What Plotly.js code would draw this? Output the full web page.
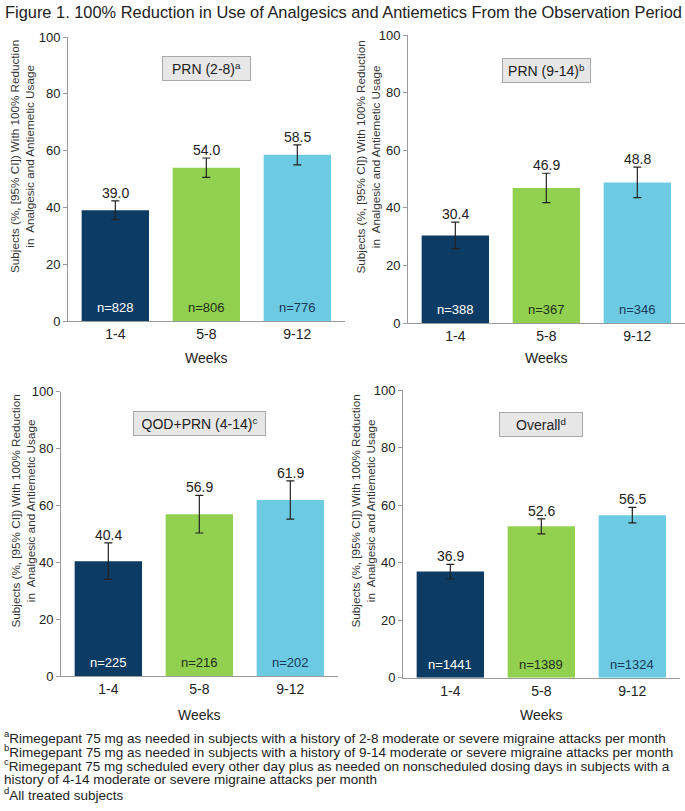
<!DOCTYPE html>
<html>
<head>
<meta charset="utf-8">
<script src="https://cdn.plot.ly/plotly-3.0.1.min.js"></script>
<style>html,body{margin:0;padding:0;background:#fff;}#chart{width:685px;height:811px;}</style>
</head>
<body>
<div id="chart"></div>
<script>
// ---- data ----
const weeks = ['1-4', '5-8', '9-12'];
const panelLabels = ['PRN (2-8)<sup>a</sup>', 'PRN (9-14)<sup>b</sup>', 'QOD+PRN (4-14)<sup>c</sup>', 'Overall<sup>d</sup>'];
const prn28Pct = [39.0, 54.0, 58.5];
const prn28Ci = [3.3, 3.4, 3.5];
const prn28N = [828, 806, 776];
const prn914Pct = [30.4, 46.9, 48.8];
const prn914Ci = [4.6, 5.1, 5.3];
const prn914N = [388, 367, 346];
const qodPct = [40.4, 56.9, 61.9];
const qodCi = [6.4, 6.6, 6.7];
const qodN = [225, 216, 202];
const overallPct = [36.9, 52.6, 56.5];
const overallCi = [2.5, 2.6, 2.7];
const overallN = [1441, 1389, 1324];
const barColors = ['#0c3b63', '#92d050', '#6ccbe2'];
const nTextColors = ['#ffffff', '#1e2e1a', '#17395a'];
const yTitle = 'Subjects (%, [95% CI]) With 100% Reduction<br>in  Analgesic and Antiemetic Usage';
const xTitle = 'Weeks';
const figTitle = 'Figure 1. 100% Reduction in Use of Analgesics and Antiemetics From the Observation Period';
const footnotes = [
  '<sup>a</sup>Rimegepant 75 mg as needed in subjects with a history of 2-8 moderate or severe migraine attacks per month',
  '<sup>b</sup>Rimegepant 75 mg as needed in subjects with a history of 9-14 moderate or severe migraine attacks per month',
  '<sup>c</sup>Rimegepant 75 mg scheduled every other day plus as needed on nonscheduled dosing days in subjects with a',
  'history of 4-14 moderate or severe migraine attacks per month',
  '<sup>d</sup>All treated subjects'
];

// ---- layout geometry (pixels in a 685x811 figure) ----
const W = 685, H = 811;
const FONT = 'Liberation Sans, Arial, sans-serif';
const panels = [
  {pct: prn28Pct, ci: prn28Ci, n: prn28N, label: panelLabels[0], x0: 68, yTop: 37, yBot: 321, titleX: 22, titleY: 157, boxY: 68.5, boxW: 89, weeksY: 358},
  {pct: prn914Pct, ci: prn914Ci, n: prn914N, label: panelLabels[1], x0: 408, yTop: 35, yBot: 323, titleX: 367, titleY: 157.5, boxY: 70, boxW: 89, weeksY: 358},
  {pct: qodPct, ci: qodCi, n: qodN, label: panelLabels[2], x0: 61, yTop: 391.7, yBot: 676, titleX: 22, titleY: 511.5, boxY: 423.5, boxW: 133, weeksY: 715},
  {pct: overallPct, ci: overallCi, n: overallN, label: panelLabels[3], x0: 403, yTop: 390, yBot: 677.7, titleX: 362, titleY: 511.5, boxY: 424, boxW: 84, weeksY: 715}
];
const XR = [-0.52, 2.52];
const plotW = 3.04 * 91;

const traces = [];
const annotations = [];
const layout = {
  width: W, height: H,
  margin: {l: 0, r: 0, t: 0, b: 0},
  paper_bgcolor: '#ffffff', plot_bgcolor: '#ffffff',
  showlegend: false,
  bargap: 0.26,
  font: {family: FONT, size: 13, color: '#222222'},
  annotations: annotations
};

panels.forEach((p, i) => {
  const k = i === 0 ? '' : String(i + 1);
  const xa = 'x' + k, ya = 'y' + k;
  traces.push({
    type: 'bar', x: weeks, y: p.pct, xaxis: xa, yaxis: ya,
    marker: {color: barColors, line: {width: 0}},
    error_y: {type: 'data', array: p.ci, visible: true, color: '#222222', thickness: 1.2, width: 4},
    hoverinfo: 'none'
  });
  layout['xaxis' + k] = {
    domain: [p.x0 / W, (p.x0 + plotW) / W], anchor: ya, range: XR,
    showline: true, linecolor: '#9a9a9a', linewidth: 1, ticks: '', showgrid: false, zeroline: false,
    tickfont: {family: FONT, size: 14, color: '#222222'}, fixedrange: true
  };
  layout['yaxis' + k] = {
    domain: [1 - p.yBot / H, 1 - p.yTop / H], anchor: xa, range: [0, 100], dtick: 20,
    showline: true, linecolor: '#9a9a9a', linewidth: 1, ticks: 'outside', ticklen: 4, tickcolor: '#9a9a9a',
    showgrid: false, zeroline: false, tickfont: {family: FONT, size: 13, color: '#222222'}, fixedrange: true
  };
  // value labels above error bars
  weeks.forEach((w, j) => {
    annotations.push({xref: xa, yref: ya, x: w, y: p.pct[j] + p.ci[j], yanchor: 'bottom', yshift: -2,
      text: p.pct[j].toFixed(1), showarrow: false, font: {family: FONT, size: 14, color: '#222222'}});
    annotations.push({xref: xa, yref: ya, x: w, y: 4.7, yanchor: 'middle',
      text: 'n=' + p.n[j], showarrow: false, font: {family: FONT, size: 13, color: nTextColors[j]}});
  });
  // panel label box
  annotations.push({xref: 'paper', yref: 'paper', x: (p.x0 + (1 - XR[0]) * 91) / W, y: 1 - p.boxY / H,
    xanchor: 'center', yanchor: 'middle', text: p.label, showarrow: false,
    width: p.boxW - 8, height: 17, align: 'center',
    bgcolor: '#e7e7e7', bordercolor: '#a8a8a8', borderwidth: 1, borderpad: 3,
    font: {family: FONT, size: 14, color: '#222222'}});
  // y axis title
  annotations.push({xref: 'paper', yref: 'paper', x: p.titleX / W, y: 1 - p.titleY / H,
    xanchor: 'center', yanchor: 'middle', textangle: -90, text: yTitle, showarrow: false,
    font: {family: FONT, size: 11.7, color: '#333333'}});
  // x axis title
  annotations.push({xref: 'paper', yref: 'paper', x: (p.x0 + (1 - XR[0]) * 91) / W, y: 1 - p.weeksY / H,
    xanchor: 'center', yanchor: 'middle', text: xTitle, showarrow: false,
    font: {family: FONT, size: 14, color: '#222222'}});
});

// figure title
annotations.push({xref: 'paper', yref: 'paper', x: 3 / W, y: 1 - 12 / H, xanchor: 'left', yanchor: 'middle',
  text: figTitle, showarrow: false, font: {family: FONT, size: 16.4, color: '#222222'}});
// footnotes
footnotes.forEach((t, i) => {
  annotations.push({xref: 'paper', yref: 'paper', x: 2 / W, y: 1 - (737 + i * 14.2) / H, xanchor: 'left', yanchor: 'middle',
    text: t, showarrow: false, font: {family: FONT, size: 13.5, color: '#222222'}});
});

Plotly.newPlot('chart', traces, layout, {staticPlot: true, displayModeBar: false});
</script>
</body>
</html>
